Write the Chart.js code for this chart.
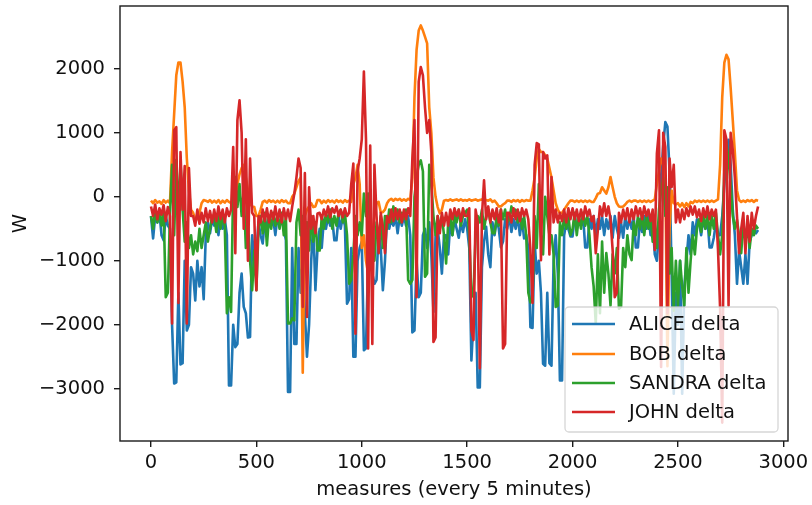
<!DOCTYPE html>
<html>
<head>
<meta charset="utf-8">
<script src="https://cdn.jsdelivr.net/npm/chart.js@4.4.1/dist/chart.umd.min.js"></script>
<style>
  html, body { margin: 0; padding: 0; background: #fff; }
  #wrap { width: 812px; height: 505px; }
</style>
</head>
<body>
<div id="wrap"><canvas id="deltaChart" width="812" height="505"></canvas></div>
<script>
// one value read every 10 measures (0 .. 2880), one row = 100 measures
var step = 10;

var seriesNames = ["ALICE delta", "BOB delta", "SANDRA delta", "JOHN delta"];
var xTicks = [0, 500, 1000, 1500, 2000, 2500, 3000];
var yTicks = [-3000, -2000, -1000, 0, 1000, 2000];

var alice = [
  -300, -650, -300, -400, -250, -600, -680, -300, -450, -500,
  -2000, -2920, -2900, -1500, -2620, -2600, -1000, -2090, -2000, -1100,
  -1200, -1620, -1000, -1400, -1100, -1600, -600, -400, -570, -350,
  -450, -300, -600, -300, -500, -350, -600, -2950, -2950, -2000,
  -2350, -2300, -1500, -1200, -1720, -1820, -2200, -2190, -600, -1000,
  -900, -400, -600, -730, -350, -500, -300, -450, -350, -600,
  -300, -450, -350, -500, -680, -3050, -3050, -800, -2300, -2300,
  -800, -1500, -1000, -1820, -2500, -2000, -1000, -400, -1460, -800,
  -500, -800, -360, -500, -300, -450, -350, -680, -680, -300,
  -500, -300, -450, -1670, -1600, -800, -2500, -2500, -1000, -800,
  -700, -2400, -2370, -1000, -700, -1200, -1360, -1300, -500, -800,
  -1460, -1000, -300, -500, -350, -450, -300, -570, -300, -450,
  -300, -450, -300, -600, -2120, -2090, -1000, -1570, -1500, -600,
  -500, -800, -400, -900, -1800, -600, -500, -800, -1200, -600,
  -600, -900, -400, -600, -350, -500, -640, -400, -550, -350,
  -500, -800, -2560, -1930, -1500, -2980, -2980, -1100, -700, -470,
  -900, -1100, -400, -600, -350, -500, -790, -700, -350, -500,
  -300, -550, -350, -500, -300, -600, -350, -650, -600, -800,
  -2040, -2050, -700, -1200, -1000, -1500, -2610, -2640, -1500, -2600,
  -2640, -1000, -600, -1200, -2870, -2870, -600, -400, -500, -620,
  -620, -300, -500, -350, -450, -300, -790, -790, -350, -500,
  -300, -600, -350, -500, -300, -600, -350, -500, -300, -640,
  -300, -500, -640, -400, -640, -300, -500, -350, -500, -300,
  -790, -790, -350, -550, -300, -500, -300, -600, -400, -900,
  -1000, -500, 300, 800, 1170, 1100, 400, -1200, -3080, -1500,
  -2000, -1000, -3080, -1400, -1000, -600, -900, -400, -600, -350,
  -400, -600, -350, -500, -350, -790, -790, -640, -400, -600,
  -600, -300, 200, 600, 890, 500, -200, -600, -1360, -840,
  -1100, -1360, -900, -1360, -700, -600, -500, -570, -520
];
var bob = [
  -60, -100, -50, -90, -70, -110, -50, -90, -60, -100,
  700, 1300, 1900, 2100, 2100, 1800, 1400, 600, 100, -200,
  -250, -350, -350, -250, -100, -50, -60, -80, -50, -90,
  -60, -90, -50, -100, -60, -90, -50, -80, -100, -50,
  0, 200, 350, 450, 500, 300, 100, -100, -150, -160,
  -300, -300, -200, -80, -60, -90, -50, -80, -60, -90,
  -60, -90, -50, -80, -60, -100, -100, 0, 50, 150,
  250, 300, -2750, -300, -200, -150, -100, -160, -150, -50,
  -50, -100, -60, -90, -50, -80, -60, -90, -50, -80,
  -60, -90, -50, -80, -60, -80, 200, 300, 500, 200,
  -800, -600, -1000, -1200, -1100, -600, -300, -100, -80, -240,
  -240, -200, -100, -50, -30, -60, -30, -50, -30, -60,
  -40, -60, -30, -50, 300, 1560, 2300, 2600, 2680, 2600,
  2500, 2400, 1400, 1000, 300, 0, -160, -260, -200, -60,
  -50, -60, -40, -60, -50, -40, -60, -40, -60, -50,
  -60, -40, -60, -50, -40, -60, -50, -40, -60, -50,
  -60, -40, -80, -60, -100, -150, -150, -120, -100, -60,
  -60, -80, -50, -70, -50, -80, -50, -70, -50, -60,
  -60, 100, 300, 600, 750, 700, 700, 650, 600, 450,
  300, 100, -100, -200, -260, -250, -200, -150, -100, -60,
  -60, -80, -60, -80, -60, -80, -60, -80, -60, -80,
  -80, -20, 50, 60, 150, 100, 50, 150, 310, 150,
  0, -100, -150, -160, -150, -120, -80, -60, -80, -60,
  -60, -80, -60, -80, -60, -80, -60, -80, -60, -40,
  200, 400, 600, 500, 300, -2650, -500, 100, -100, -120,
  -100, -150, -100, -160, -100, -150, -80, -100, -60, -80,
  -60, -80, -60, -80, -60, -80, -60, -80, -60, -40,
  500, 1560, 2100, 2220, 2150, 1700, 1200, 680, 100, -50,
  -80, -60, -80, -50, -70, -50, -80, -50, -60
];
var sandra = [
  -300, -500, -200, -400, -250, -450, -200, -1570, -1500, -300,
  500, -600, 580, -300, 550, -200, -700, -400, -800, -600,
  -900, -700, -850, -500, -800, -600, -400, -700, -500, -300,
  -300, -550, -250, -500, -300, -450, -1820, -1570, -1800, 200,
  310, -160, 200, -300, 100, -800, -400, -1000, -1460, -840,
  -1460, -500, -300, -570, -250, -760, -300, -500, -250, -450,
  -300, -500, -250, -600, -300, -1980, -1980, -1900, -1930, -400,
  -200, -600, -300, -800, -400, -840, -300, -700, -400, -840,
  -840, -300, -500, -250, -400, -200, -500, -300, -450, -250,
  -200, -400, -250, -600, -1360, -1300, -900, -300, -600, -400,
  -600, 50, -300, 50, -500, -800, -1000, -400, -700, -300,
  -800, -300, -500, -200, -400, -150, -350, -200, -400, -250,
  -350, -200, -1300, -1360, -1300, 0, 300, 500, 570, 400,
  -1250, -1200, 500, 200, -300, -600, -300, -500, -300, -600,
  -1040, -400, -300, -600, -250, -400, -200, -450, -300, -250,
  -200, -600, -1570, -1500, -600, -300, -400, -200, -500, -300,
  -200, -400, -570, -570, -300, -450, -200, -350, -200, -400,
  -350, -150, -300, -200, -400, -250, -500, -300, -600, -1500,
  -1650, -1600, -300, -800, 200, -600, -900, 0, -300, -600,
  -600, -900, -1720, -1700, -400, -600, -300, -500, -300, -600,
  -500, -250, -600, -300, -500, -250, -450, -300, -600, -1100,
  -1400, -1980, -900, -1820, -700, -1500, -880, -1200, -1700, -900,
  -1200, -800, -1750, -1720, -800, -1100, -600, -900, -990, -400,
  -600, -300, -500, -250, -600, -300, -500, -300, -700, -400,
  -800, -200, 100, 300, -300, 150, -1200, -800, -1780, -1000,
  -1700, -1000, -1400, -1700, -800, -1500, -1000, -600, -900, -500,
  -350, -550, -300, -500, -250, -600, -300, -500, -250, -600,
  -900, -600, 400, 840, 580, 200, -300, -500, -360, -600,
  -880, -400, -700, -450, -800, -500, -600, -450, -500
];
var john = [
  -150, -300, -120, -350, -180, -280, -130, -380, -160, -300,
  -1980, 1040, 1090, -1660, 700, -200, 480, -1980, 450, -300,
  -300, -450, -200, -420, -250, -400, -180, -380, -220, -400,
  -200, -380, -150, -350, -200, -400, -180, -300, -200, 780,
  -880, 1200, 1510, 1000, -500, 900, -1000, 600, -250, -300,
  -1460, -300, -400, -200, -380, -180, -400, -220, -350, -150,
  -380, -200, -400, -180, -350, -200, -380, -150, 50, 300,
  600, 450, -1720, 370, -1880, 150, -500, -300, -570, -260,
  -250, -350, -200, -300, -150, -320, -180, -250, -150, -300,
  -200, -320, -180, -300, -250, 200, 520, -2140, 400, 600,
  900, 1960, 900, -2370, 800, -2300, 500, -300, -880, -250,
  -470, -880, -300, -400, -200, -380, -180, -350, -200, -400,
  -200, -350, -180, -300, 600, 1200, -1570, 1800, 2030, 1900,
  1400, 1000, 1200, 700, -2270, -2200, -300, -570, -250, -450,
  -250, -450, -200, -350, -180, -300, -200, -380, -180, -300,
  -300, -180, -2090, -2240, -200, -400, -2680, -300, 260, -350,
  -150, -400, -200, -350, -180, -400, -200, -2370, -2300, -250,
  -250, -400, -180, -350, -200, -380, -180, -300, -200, -350,
  -830, -1660, 500, 840, 820, -990, 700, 600, 650, -900,
  310, -400, -200, -400, -250, -380, -200, -400, -180, -350,
  -180, -350, -200, -380, -200, -350, -150, -300, -200, -380,
  -300, -880, -520, -150, -300, -100, -300, -150, -350, -830,
  -1570, -1500, -250, -400, -200, -350, -180, -400, -200, -350,
  -150, -300, -180, -350, -150, -300, -200, -380, -200, -830,
  680, 1040, -2660, 1000, 780, -1820, 600, 150, 500, -400,
  -200, -400, -200, -350, -180, -300, -150, -280, -150, -320,
  -200, -380, -180, -320, -150, -350, -200, -300, -200, -830,
  -1750, -3530, 1040, 900, -1700, 1000, 730, 300, -300, -880,
  -500, -250, -880, -300, -700, -250, -500, -300, -150
];

var colors = ['#1f77b4', '#ff7f0e', '#2ca02c', '#d62728'];
var fontFamily = '"DejaVu Sans", sans-serif';
var fontSize = 19.5;

function toPoints(values) {
    return values.map(function (v, i) {
        return {x: i * step, y: v};
    });
}

function fmt(v) {
    return v < 0 ? '\u2212' + Math.abs(v) : String(v);
}

function noEdgePadding(scale) {
    scale.paddingTop = 0;
    scale.paddingBottom = 0;
    scale.paddingLeft = 0;
    scale.paddingRight = 0;
}

var boxAndLegend = {
    id: 'boxAndLegend',
    afterDatasetsDraw: function (chart) {
        var ctx = chart.ctx;
        var a = chart.chartArea;
        ctx.save();
        // axes frame (all four spines)
        ctx.strokeStyle = '#1a1a1a';
        ctx.lineWidth = 1.4;
        ctx.strokeRect(a.left, a.top, a.right - a.left, a.bottom - a.top);

        // legend, lower right inside the axes
        var x0 = 565, y0 = 307, w = 213, h = 125, r = 4;
        ctx.beginPath();
        ctx.moveTo(x0 + r, y0);
        ctx.lineTo(x0 + w - r, y0);
        ctx.arcTo(x0 + w, y0, x0 + w, y0 + r, r);
        ctx.lineTo(x0 + w, y0 + h - r);
        ctx.arcTo(x0 + w, y0 + h, x0 + w - r, y0 + h, r);
        ctx.lineTo(x0 + r, y0 + h);
        ctx.arcTo(x0, y0 + h, x0, y0 + h - r, r);
        ctx.lineTo(x0, y0 + r);
        ctx.arcTo(x0, y0, x0 + r, y0, r);
        ctx.closePath();
        ctx.fillStyle = 'rgba(255,255,255,0.8)';
        ctx.fill();
        ctx.strokeStyle = 'rgba(204,204,204,0.8)';
        ctx.lineWidth = 1.3;
        ctx.stroke();

        var rows = [324, 354, 383, 412];
        ctx.font = fontSize + 'px ' + fontFamily;
        ctx.textBaseline = 'middle';
        ctx.textAlign = 'left';
        for (var i = 0; i < seriesNames.length; i++) {
            ctx.beginPath();
            ctx.moveTo(572, rows[i]);
            ctx.lineTo(615, rows[i]);
            ctx.strokeStyle = colors[i];
            ctx.lineWidth = 2.7;
            ctx.stroke();
            ctx.fillStyle = '#111';
            ctx.fillText(seriesNames[i], 629, rows[i] + 1);
        }
        ctx.restore();
    }
};

var allSeries = [alice, bob, sandra, john];
var datasets = allSeries.map(function (values, i) {
    return {
        label: seriesNames[i],
        data: toPoints(values),
        borderColor: colors[i],
        backgroundColor: colors[i],
        borderWidth: 2.6,
        pointRadius: 0,
        tension: 0,
        fill: false,
        borderJoinStyle: 'round',
        order: allSeries.length - 1 - i
    };
});

new Chart(document.getElementById('deltaChart'), {
    type: 'line',
    data: {datasets: datasets},
    options: {
        responsive: false,
        animation: false,
        devicePixelRatio: 1,
        layout: {padding: {left: 0, right: 24, top: 6, bottom: 0}},
        plugins: {
            legend: {display: false},
            tooltip: {enabled: false}
        },
        scales: {
            x: {
                type: 'linear',
                min: -147,
                max: 3022,
                afterBuildTicks: function (scale) {
                    scale.ticks = xTicks.map(function (v) { return {value: v}; });
                },
                afterFit: function (scale) {
                    scale.height = 64;
                    noEdgePadding(scale);
                },
                border: {display: false},
                grid: {drawOnChartArea: false, drawTicks: true, tickLength: 6, color: '#1a1a1a', lineWidth: 1.4},
                ticks: {
                    font: {family: fontFamily, size: fontSize},
                    color: '#111',
                    padding: 4,
                    maxRotation: 0,
                    autoSkip: false,
                    callback: function (v) { return fmt(v); }
                },
                title: {
                    display: true,
                    text: 'measures (every 5 minutes)',
                    font: {family: fontFamily, size: fontSize},
                    color: '#111',
                    padding: {top: 0, bottom: 3}
                }
            },
            y: {
                min: -3818,
                max: 2984,
                afterBuildTicks: function (scale) {
                    scale.ticks = yTicks.map(function (v) { return {value: v}; });
                },
                afterFit: function (scale) {
                    scale.width = 120;
                    noEdgePadding(scale);
                },
                border: {display: false},
                grid: {drawOnChartArea: false, drawTicks: true, tickLength: 6, color: '#1a1a1a', lineWidth: 1.4},
                ticks: {
                    font: {family: fontFamily, size: fontSize},
                    color: '#111',
                    padding: 9,
                    autoSkip: false,
                    callback: function (v) { return fmt(v); }
                },
                title: {
                    display: true,
                    text: 'W',
                    font: {family: fontFamily, size: fontSize},
                    color: '#111',
                    padding: {top: 9, bottom: 0}
                }
            }
        }
    },
    plugins: [boxAndLegend]
});
</script>
</body>
</html>
